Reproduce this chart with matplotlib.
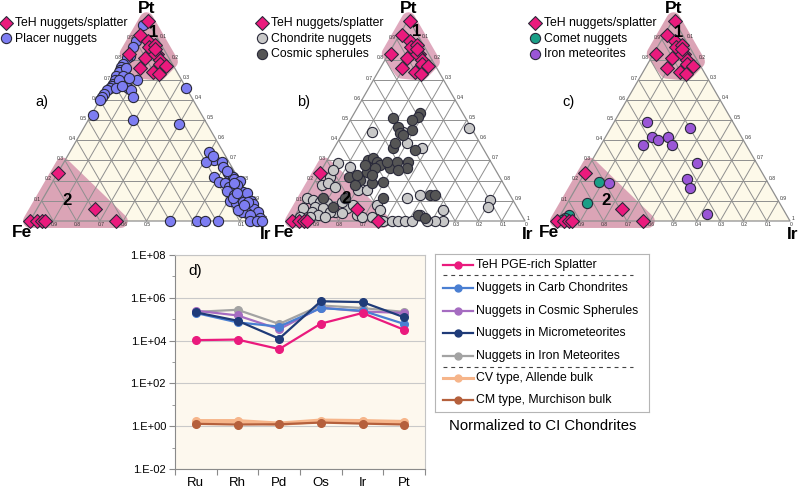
import numpy as np
import matplotlib
matplotlib.use('Agg')
import matplotlib.pyplot as plt
from matplotlib.ticker import FixedLocator, FixedFormatter, NullFormatter, LogLocator

plt.rcParams['font.family'] = ['Liberation Sans', 'DejaVu Sans']

# ---------------- data: ternary compositions given as (Pt, Ir); Fe = 1 - Pt - Ir
teh_nuggets = [(0.99, 0.01), (0.92, 0.01), (0.89, 0.06), (0.86, 0.08), (0.83, 0.13), (0.83, 0.01),
               (0.81, 0.09), (0.83, 0.12), (0.80, 0.16), (0.78, 0.17), (0.77, 0.20), (0.76, 0.09),
               (0.74, 0.16), (0.73, 0.19), (0.87, 0.10), (0.85, 0.11),
               (0.24, 0.0), (0.06, 0.25), (0.0, 0.37), (0.0, 0.0), (0.0, 0.03), (0.0, 0.05), (0.0, 0.065)]

placer_nuggets = [(0.97, 0.0), (0.89, 0.01), (0.86, 0.01), (0.82, 0.02), (0.81, 0.01), (0.78, 0.01),
                  (0.765, 0.01), (0.75, 0.01), (0.74, 0.01), (0.72, 0.01), (0.70, 0.015), (0.68, 0.017),
                  (0.67, 0.016), (0.66, 0.014), (0.65, 0.005), (0.63, 0.003), (0.615, 0.0), (0.60, 0.0),
                  (0.69, 0.048), (0.68, 0.062), (0.67, 0.075), (0.66, 0.091), (0.65, 0.108), (0.615, 0.135),
                  (0.70, 0.109), (0.66, 0.34), (0.525, 0.007), (0.50, 0.19), (0.48, 0.40),
                  (0.76, 0.03), (0.72, 0.04), (0.70, 0.03), (0.66, 0.04), (0.71, 0.07), (0.67, 0.06),
                  (0.34, 0.60), (0.30, 0.64), (0.29, 0.68), (0.29, 0.61), (0.24, 0.73), (0.22, 0.76),
                  (0.21, 0.77), (0.20, 0.80), (0.22, 0.68), (0.195, 0.715), (0.19, 0.74), (0.17, 0.77),
                  (0.16, 0.79), (0.155, 0.82), (0.145, 0.84), (0.15, 0.77), (0.13, 0.81), (0.12, 0.84),
                  (0.14, 0.86), (0.10, 0.90), (0.085, 0.915), (0.10, 0.81), (0.09, 0.84), (0.07, 0.88),
                  (0.07, 0.90), (0.06, 0.93), (0.045, 0.955), (0.013, 0.98), (0.038, 0.911), (0.046, 0.885),
                  (0.055, 0.866), (0.112, 0.817), (0.096, 0.867), (0.096, 0.889), (0.27, 0.695), (0.18, 0.80),
                  (0.32, 0.627), (0.25, 0.72), (0.19, 0.78), (0.14, 0.82), (0.08, 0.88), (0.03, 0.93),
                  (0.0, 0.60), (0.0, 0.715), (0.0, 0.751), (0.0, 0.808), (0.0, 0.944), (0.0, 0.973), (0.0, 0.995)]

chondrite_nuggets = [(0.46, 0.53), (0.443, 0.121), (0.443, 0.257), (0.36, 0.377), (0.385, 0.30), (0.286, 0.056),
                     (0.219, 0.054), (0.178, 0.038), (0.154, 0.208), (0.203, 0.212), (0.112, 0.007), (0.104, 0.039),
                     (0.096, 0.072), (0.088, 0.105), (0.071, 0.063), (0.063, 0.103), (0.046, 0.162), (0.046, 0.062),
                     (0.030, 0.263), (0.079, 0.324), (0.021, 0.331), (0.0, 0.392), (0.0, 0.428), (0.0, 0.456),
                     (0.0, 0.485), (0.0, 0.514), (0.112, 0.436), (0.129, 0.485), (0.055, 0.622), (0.0, 0.649),
                     (0.0, 0.614), (0.0, 0.578), (0.104, 0.798), (0.071, 0.807), (0.063, 0.203), (0.038, 0.194),
                     (0.046, 0.14), (0.063, 0.017), (0.030, 0.098), (0.021, 0.131), (0.253, 0.05), (0.269, 0.115),
                     (0.187, 0.062), (0.17, 0.10), (0.154, 0.244), (0.055, 0.35), (0.021, 0.289), (0.030, 0.534),
                     (0.021, 0.067), (0.021, 0.024), (0.096, 0.165), (0.079, 0.224)]

cosmic_spherules = [(0.509, 0.18), (0.534, 0.282), (0.517, 0.284), (0.468, 0.222), (0.434, 0.247), (0.451, 0.288),
                    (0.36, 0.255), (0.385, 0.25), (0.352, 0.352), (0.302, 0.176), (0.311, 0.193), (0.294, 0.217),
                    (0.261, 0.204), (0.244, 0.199), (0.277, 0.239), (0.261, 0.29), (0.294, 0.302), (0.294, 0.352),
                    (0.261, 0.362), (0.253, 0.33), (0.195, 0.294), (0.187, 0.249), (0.203, 0.19), (0.112, 0.336),
                    (0.219, 0.133), (0.178, 0.181), (0.129, 0.528), (0.129, 0.55), (0.030, 0.527), (0.112, 0.171),
                    (0.071, 0.142), (0.261, 0.226), (0.294, 0.259), (0.277, 0.175), (0.50, 0.264), (0.426, 0.265),
                    (0.013, 0.564), (0.228, 0.164), (0.228, 0.228), (0.112, 0.078)]

comet_nuggets = [(0.195, 0.083), (0.088, 0.083), (0.030, 0.036), (0.013, 0.028), (0.005, 0.018)]

iron_meteorites = [(0.492, 0.139), (0.459, 0.341), (0.415, 0.202), (0.401, 0.232), (0.415, 0.268), (0.376, 0.304),
                   (0.376, 0.182), (0.286, 0.459), (0.207, 0.454), (0.162, 0.49), (0.035, 0.625), (0.19, 0.128)]

# TeH compositional fields (Pt, Ir) corners
field_1 = [(1.0, 0.0), (0.83, 0.0), (0.74, 0.10), (0.73, 0.19), (0.79, 0.21)]
field_2 = [(0.0, 0.0), (0.28, 0.0), (0.0, 0.39)]

# ---------------- data: PGE patterns normalized to CI chondrites
elements = ['Ru', 'Rh', 'Pd', 'Os', 'Ir', 'Pt']
teh_splatter = [1.05e4, 1.12e4, 4.0e3, 6.2e4, 1.95e5, 3.2e4]
carb_chondrites = [1.95e5, 7.1e4, 4.5e4, 3.3e5, 2.5e5, 6.0e4]
cosmic_sph = [2.5e5, 1.5e5, 3.4e4, 3.5e5, 2.3e5, 1.95e5]
micrometeorites = [2.1e5, 8.5e4, 1.23e4, 6.9e5, 6.3e5, 1.23e5]
iron_met = [2.2e5, 2.75e5, 6.0e4, 4.4e5, 3.3e5, 2.2e5]
cv_allende = [1.7, 1.7, 1.3, 1.8, 1.7, 1.55]
cm_murchison = [1.29, 1.2, 1.23, 1.48, 1.32, 1.2]
ytick_vals = [1e-2, 1e0, 1e2, 1e4, 1e6, 1e8]
ytick_labels = ['1.E-02', '1.E+00', '1.E+02', '1.E+04', '1.E+06', '1.E+08']

# ---------------- figure
W, H = 800, 492
fig = plt.figure(figsize=(W / 100, H / 100), dpi=100)
fig.patch.set_facecolor('white')

SQ = np.sqrt(3) / 2


def tern(pairs):
    a = np.asarray(pairs, float).reshape(-1, 2)
    pt, ir = a[:, 0], a[:, 1]
    return ir + pt / 2, pt * SQ


S = 233.0
BASE = 221.0
UMIN, UMAX, VMIN, VMAX = -0.14, 1.14, -0.12, 0.97

PINK = '#ea1a7d'
GRID = '#8f8f8f'


def tern_axes(x0):
    left = x0 + UMIN * S
    bottom = (H - BASE) + VMIN * S
    ax = fig.add_axes([left / W, bottom / H, (UMAX - UMIN) * S / W, (VMAX - VMIN) * S / H])
    ax.set_xlim(UMIN, UMAX)
    ax.set_ylim(VMIN, VMAX)
    ax.axis('off')
    return ax


def draw_frame(ax, fill, shade, n1pos, n2pos, letter):
    tx, ty = tern([(0, 0), (0, 1), (1, 0), (0, 0)])
    if fill is not None:
        ax.fill(tx, ty, color=fill, lw=0, zorder=0)
    for fld in (field_1, field_2):
        fx, fy = tern(fld)
        ax.fill(fx, fy, facecolor=shade, edgecolor=shade, lw=10,
                joinstyle='round', zorder=1)
    for i in range(1, 10):
        f = i / 10
        for seg in ([(f, 0), (f, 1 - f)], [(0, f), (1 - f, f)], [(0, 1 - f), (1 - f, 0)]):
            gx, gy = tern(seg)
            ax.plot(gx, gy, color=GRID, lw=0.7, zorder=2)
    ax.plot(tx, ty, color=GRID, lw=0.9, zorder=2)
    fs = 3.6
    for i in range(1, 10):
        f = i / 10
        x, y = tern([(f, 0)])
        ax.annotate(f'{f:.1f}', (x[0], y[0]), xytext=(-0.8, 1.2), textcoords='offset points',
                    ha='right', va='center', fontsize=fs, color='#333333')
    for i in range(1, 11):
        f = i / 10
        x, y = tern([(1 - f, f)])
        lbl = '1' if i == 10 else f'{f:.1f}'
        ax.annotate(lbl, (x[0], y[0]), xytext=(1.2, 1.8), textcoords='offset points',
                    ha='left', va='center', fontsize=fs, color='#333333')
    for i in range(1, 11):
        u = i / 10
        x, y = tern([(0, u)])
        lbl = '0' if i == 10 else f'{1 - u:.1f}'
        ax.annotate(lbl, (x[0], y[0]), xytext=(0.8, -2.2), textcoords='offset points',
                    ha='center', va='center', fontsize=fs, color='#333333')
    ax.text(0.5, SQ + 0.047, 'Pt', ha='center', va='center', fontsize=12.5, fontweight='bold')
    ax.text(-0.035, -0.05, 'Fe', ha='center', va='center', fontsize=12.5, fontweight='bold')
    ax.text(1.012, -0.058, 'Ir', ha='center', va='center', fontsize=12.5, fontweight='bold')
    ax.text(n1pos[0], n1pos[1], '1', ha='center', va='center', fontsize=12, fontweight='bold', zorder=6)
    ax.text(n2pos[0], n2pos[1], '2', ha='center', va='center', fontsize=12, fontweight='bold', zorder=6)
    ax.text(0.05, 0.51, letter, ha='center', va='center', fontsize=10.5)


def scatter_pts(ax, pairs, marker, color, label, s, z):
    x, y = tern(pairs)
    return ax.scatter(x, y, marker=marker, s=s, facecolor=color, edgecolor='#2a2a3a',
                      linewidths=0.8, zorder=z, label=label, clip_on=False)


def panel_legend(ax, handles, lx):
    ax.legend(handles=handles, loc='upper left', bbox_to_anchor=(lx / W, 1 - 17 / H),
              bbox_transform=fig.transFigure, frameon=False, fontsize=8.8, borderpad=0,
              borderaxespad=0, handlelength=0.8, handletextpad=0.35, labelspacing=0.3)


# panel a
axa = tern_axes(30)
draw_frame(axa, '#fdf9e9', '#dba4b6', (0.532, 0.807), (0.157, 0.09), 'a)')
h1 = scatter_pts(axa, placer_nuggets, 'o', '#7d7df2', 'Placer nuggets', 54, 4)
h0 = scatter_pts(axa, teh_nuggets, 'D', PINK, 'TeH nuggets/splatter', 50, 5)
panel_legend(axa, [h0, h1], 1)

# panel b
axb = tern_axes(292)
draw_frame(axb, None, '#dfa9be', (0.535, 0.812), (0.232, 0.098), 'b)')
h1 = scatter_pts(axb, chondrite_nuggets, 'o', '#c8c8c8', 'Chondrite nuggets', 54, 4)
h2 = scatter_pts(axb, cosmic_spherules, 'o', '#555555', 'Cosmic spherules', 54, 4)
h0 = scatter_pts(axb, teh_nuggets, 'D', PINK, 'TeH nuggets/splatter', 50, 5)
panel_legend(axb, [h0, h1, h2], 257)

# panel c
axc = tern_axes(557)
draw_frame(axc, '#fdf9e9', '#dba4b6', (0.52, 0.807), (0.209, 0.09), 'c)')
h1 = scatter_pts(axc, comet_nuggets, 'o', '#1a9f87', 'Comet nuggets', 54, 4)
h2 = scatter_pts(axc, iron_meteorites, 'o', '#9a56d6', 'Iron meteorites', 54, 4)
h0 = scatter_pts(axc, teh_nuggets, 'D', PINK, 'TeH nuggets/splatter', 50, 5)
panel_legend(axc, [h0, h1, h2], 530)

# ---------------- panel d
axd = fig.add_axes([175 / W, (H - 469) / H, 250 / W, 214 / H])
axd.set_facecolor('#fdf8ee')
axd.set_yscale('log')
axd.set_ylim(1e-2, 1e8)
axd.set_xlim(-0.5, len(elements) - 0.5)
xs = np.arange(len(elements))

series = [
    (cv_allende, '#f6b58a', 3.2, 'CV type, Allende bulk'),
    (cm_murchison, '#b5603c', 1.6, 'CM type, Murchison bulk'),
    (iron_met, '#a3a3a3', 1.6, 'Nuggets in Iron Meteorites'),
    (cosmic_sph, '#a56cc1', 1.6, 'Nuggets in Cosmic Spherules'),
    (carb_chondrites, '#4a7fd2', 1.6, 'Nuggets in Carb Chondrites'),
    (micrometeorites, '#1f3b78', 1.6, 'Nuggets in Micrometeorites'),
    (teh_splatter, PINK, 1.6, 'TeH PGE-rich Splatter'),
]
for vals, col, lw, lab in series:
    axd.plot(xs, vals, color=col, lw=lw, marker='o', ms=5.5, mfc=col, mec=col, zorder=3)

axd.yaxis.set_major_locator(FixedLocator(ytick_vals))
axd.yaxis.set_major_formatter(FixedFormatter(ytick_labels))
axd.yaxis.set_minor_locator(LogLocator(base=10, subs=(1.0,), numticks=20))
axd.yaxis.set_minor_formatter(NullFormatter())
axd.tick_params(axis='y', which='major', labelsize=8, length=4, color='#8a8a8a', pad=2.5)
axd.tick_params(axis='y', which='minor', length=2.5, color='#8a8a8a')
axd.xaxis.set_major_locator(FixedLocator(np.arange(-0.5, len(elements), 1.0)))
axd.xaxis.set_major_formatter(NullFormatter())
axd.xaxis.set_minor_locator(FixedLocator(xs))
axd.xaxis.set_minor_formatter(FixedFormatter(elements))
axd.tick_params(axis='x', which='major', length=4, color='#8a8a8a')
axd.tick_params(axis='x', which='minor', length=0, labelsize=9.5, pad=6)
axd.grid(True, axis='y', which='major', color='#c9c9c9', lw=0.8)
axd.set_axisbelow(True)
for side in ('left', 'bottom'):
    axd.spines[side].set_color('#8a8a8a')
for side in ('top', 'right'):
    axd.spines[side].set_color('#c4c4c4')
axd.text(0.052, 0.925, 'd)', transform=axd.transAxes, fontsize=11, ha='left', va='center')

# legend box for panel d
axl = fig.add_axes([435 / W, (H - 412) / H, 214 / W, 158 / H])
axl.set_xlim(0, 214)
axl.set_ylim(158, 0)
axl.set_xticks([])
axl.set_yticks([])
for sp in axl.spines.values():
    sp.set_color('#b5b5b5')
leg_order = [6, 4, 3, 5, 2, 0, 1]
leg_y = [11, 34, 57, 79, 102, 124, 146]
for idx, yy in zip(leg_order, leg_y):
    vals, col, lw, lab = series[idx]
    axl.plot([8, 38], [yy, yy], color=col, lw=min(lw, 2.2))
    axl.plot([23], [yy], marker='o', ms=5, color=col)
    axl.text(41, yy, lab, fontsize=8.8, va='center', ha='left')
for yy in (21, 113):
    axl.plot([8, 198], [yy, yy], color='#444444', lw=0.8, ls=(0, (3.5, 3.5)))

fig.text(543 / W, 1 - 426 / H, 'Normalized to CI Chondrites', ha='center', va='center', fontsize=10.7)

fig.savefig('out.png', dpi=100)
